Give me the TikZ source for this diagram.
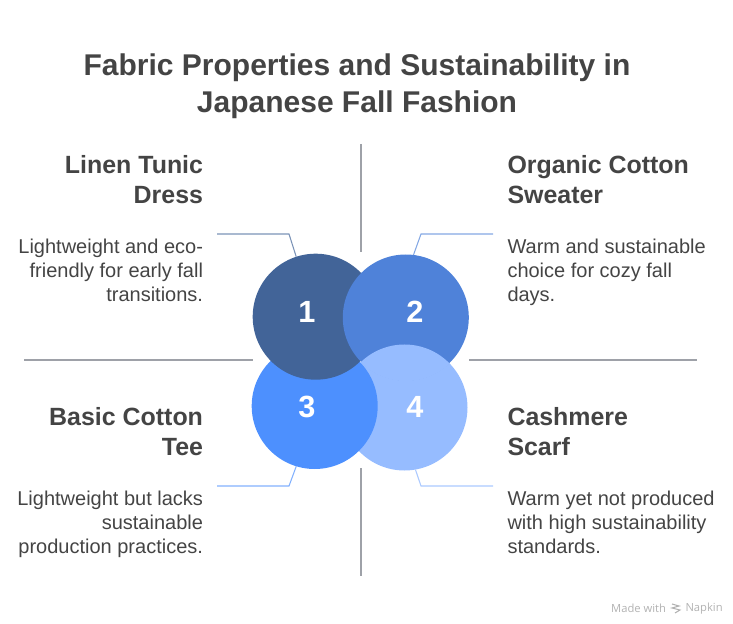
\documentclass[tikz,border=0pt]{standalone}
\usepackage{fontspec}
\setmainfont{Liberation Sans}
\newfontfamily\madefont{Open Sans}
\definecolor{inkgrey}{HTML}{444444}
\definecolor{rulegrey}{HTML}{9EA1A8}
\definecolor{blueone}{HTML}{426498}
\definecolor{bluetwo}{HTML}{4F82D9}
\definecolor{bluethree}{HTML}{4D90FE}
\definecolor{bluefour}{HTML}{96BCFF}
\tikzset{every picture/.style={line width=0.75pt},
  blob/.style={circle,minimum size=94.5pt,inner sep=0pt,outer sep=0pt},
  numlabel/.style={text=white,font=\bfseries\fontsize{23}{24}\selectfont,inner sep=0pt},
  titletext/.style={text=inkgrey,align=center,inner sep=0pt,font=\bfseries\fontsize{22.5}{27.75}\selectfont},
  headleft/.style={text=inkgrey,align=right,anchor=north east,inner sep=0pt,font=\bfseries\fontsize{18.7}{22.5}\selectfont},
  headright/.style={text=inkgrey,align=left,anchor=north west,inner sep=0pt,font=\bfseries\fontsize{18.7}{22.5}\selectfont},
  bodyleft/.style={text=inkgrey,align=right,anchor=north east,inner sep=0pt,font=\fontsize{15}{18}\selectfont},
  bodyright/.style={text=inkgrey,align=left,anchor=north west,inner sep=0pt,font=\fontsize{15}{18}\selectfont},
  sepline/.style={draw=rulegrey,line width=1.1pt},
  leader/.style={line width=0.8pt}}
\begin{document}
\begin{tikzpicture}[x=0.75pt,y=0.75pt,yscale=-1,xscale=1]
        \useasboundingbox (0,0) rectangle (733,624);

        % Separators
        \draw [sepline] (361,144) -- (361,252) ;
        \draw [sepline] (361,468) -- (361,576) ;
        \draw [sepline] (24,360) -- (253,360) ;
        \draw [sepline] (469,360) -- (697,360) ;

        % Circles
        \node [blob,fill=bluefour] (circlefour) at (404.5,407.5) {};
        \node [blob,fill=bluethree] (circlethree) at (314.7,406) {};
        \node [blob,fill=blueone] (circleone) at (315.7,316.7) {};
        \node [blob,fill=bluetwo] (circletwo) at (405.8,317.5) {};
        % Part of circle 4 that lies over circle 2
        \begin{scope}
          \clip (405.8,317.5) circle (63.6);
          \fill [bluefour] (404.5,407.5) circle (63);
        \end{scope}

        % Numbers
        \node [numlabel] (numone) at (307,312) {1};
        \node [numlabel] (numtwo) at (415,312) {2};
        \node [numlabel] (numthree) at (307,407) {3};
        \node [numlabel] (numfour) at (415,407) {4};

        % Leaders
        \coordinate (endone) at (217,234);
        \coordinate (kneeone) at (289,234);
        \coordinate (endtwo) at (493,234);
        \coordinate (kneetwo) at (421,234);
        \coordinate (endthree) at (217,486);
        \coordinate (kneethree) at (289,486);
        \coordinate (endfour) at (493,486);
        \coordinate (kneefour) at (421,486);
        \draw [leader,blueone!70!white] (endone) -- (kneeone) -- (circleone.108) ;
        \draw [leader,bluetwo!70!white] (endtwo) -- (kneetwo) -- (circletwo.83) ;
        \draw [leader,bluethree!70!white] (endthree) -- (kneethree) -- (circlethree.-107) ;
        \draw [leader,bluefour!80!white] (endfour) -- (kneefour) -- (circlefour.-80) ;

        % Title
        \node [titletext] (title) at (357,86) {Fabric Properties and Sustainability in\\Japanese Fall Fashion};

        % Text Node
        \node [headleft] (headone) at (203.5,154.5) {Linen Tunic\\Dress};
        \node [bodyleft] (bodyone) at (203.5,238.5) {Lightweight and eco-\\friendly for early fall\\transitions.};
        \node [headright] (headtwo) at (507,154.5) {Organic Cotton\\Sweater};
        \node [bodyright] (bodytwo) at (507,238.5) {Warm and sustainable\\choice for cozy fall\\days.};
        \node [headleft] (headthree) at (203.5,406.5) {Basic Cotton\\Tee};
        \node [bodyleft] (bodythree) at (203.5,490.5) {Lightweight but lacks\\sustainable\\production practices.};
        \node [headright] (headfour) at (507,406.5) {Cashmere\\Scarf};
        \node [bodyright] (bodyfour) at (507,490.5) {Warm yet not produced\\with high sustainability\\standards.};

        % Made with mark
        \node [text=black!30,inner sep=0pt,anchor=east,font=\madefont\fontsize{8.4}{10}\selectfont] (madewith) at (666.5,608.5) {Made with};
        \node [text=black!30,inner sep=0pt,anchor=west,font=\madefont\fontsize{8.4}{10}\selectfont] (napkin) at (685,608.5) {Napkin};
        \draw [black!30,line width=0.8pt] (672,604) -- (679,606) -- (672,608) -- (680,610) -- (675,613) ;
\end{tikzpicture}
\end{document}
